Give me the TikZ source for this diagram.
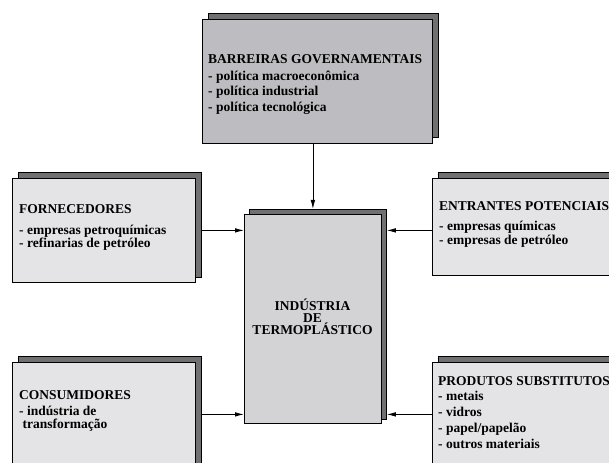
\documentclass[tikz,border=0pt]{standalone}
\usepackage{fontspec}
\setmainfont{Liberation Serif}
\usetikzlibrary{arrows.meta}
\definecolor{topfill}{HTML}{BDBDC1}
\definecolor{cenfill}{HTML}{D3D3D5}
\definecolor{sidefill}{HTML}{E4E4E6}
\definecolor{shadowgray}{HTML}{707072}
\tikzset{
  anybox/.style={rectangle, draw=black, line width=0.8bp, inner sep=0pt, anchor=north west},
  shadowbox/.style={anybox, fill=shadowgray},
  frontbox/.style={anybox},
  txt/.style={inner sep=0pt, anchor=base west, font=\bfseries},
  conn/.style={draw=black, line width=0.8bp, -{Latex[length=9bp,width=4.5bp]}},
}
\begin{document}
\begin{tikzpicture}[x=1bp,y=-1bp]
\useasboundingbox (0,0) rectangle (609,463);
\clip (0,0) rectangle (609,463);
\fill[white] (0,0) rectangle (609,463);
% shadows
\node[shadowbox, minimum width=230bp, minimum height=124bp] (topS) at (208,13) {};
\node[shadowbox, minimum width=137bp, minimum height=210bp] (cenS) at (249,209) {};
\node[shadowbox, minimum width=183bp, minimum height=105bp] (fornS) at (18,172) {};
\node[shadowbox, minimum width=190bp, minimum height=98bp] (entrS) at (438,172) {};
\node[shadowbox, minimum width=183bp, minimum height=115bp] (consS) at (18,356) {};
\node[shadowbox, minimum width=190bp, minimum height=115bp] (prodS) at (438,356) {};
% fronts
\node[frontbox, fill=topfill, minimum width=230bp, minimum height=124bp] (top) at (202,19) {};
\node[frontbox, fill=cenfill, minimum width=137bp, minimum height=209bp] (cen) at (244,214) {};
\node[frontbox, fill=sidefill, minimum width=183bp, minimum height=104bp] (forn) at (12,178) {};
\node[frontbox, fill=sidefill, minimum width=190bp, minimum height=97bp] (entr) at (432,178) {};
\node[frontbox, fill=sidefill, minimum width=183bp, minimum height=104bp] (cons) at (12,362) {};
\node[frontbox, fill=sidefill, minimum width=190bp, minimum height=115bp] (prod) at (432,362) {};
% texts
\node[txt] (topT) at (208,64) {\parbox[t]{260bp}{\fontsize{13.5bp}{15.5bp}\selectfont
  BARREIRAS GOVERNAMENTAIS\\[1bp]
  - política macroeconômica\\
  - política industrial\\
  - política tecnológica}};
\node[txt] (fornT) at (19,214) {\parbox[t]{200bp}{\fontsize{13.5bp}{13bp}\selectfont
  FORNECEDORES\\[7.5bp]
  - empresas petroquímicas\\
  - refinarias de petróleo}};
\node[txt] (entrT) at (439,211) {\parbox[t]{260bp}{\fontsize{13.5bp}{14bp}\selectfont
  ENTRANTES POTENCIAIS\\[6bp]
  - empresas químicas\\
  - empresas de petróleo}};
\node[txt] (consT) at (19,399) {\parbox[t]{200bp}{\fontsize{13.5bp}{13bp}\selectfont
  CONSUMIDORES\\[3bp]
  - indústria de\\
  \hspace*{3.5bp}transformação}};
\node[txt] (prodT) at (438,385) {\parbox[t]{260bp}{\fontsize{13.5bp}{16bp}\selectfont
  PRODUTOS SUBSTITUTOS\\[-1bp]
  - metais\\
  - vidros\\
  - papel/papelão\\
  - outros materiais}};
\node[txt, anchor=base] (cenT) at (312.5,310.5) {\parbox[t]{140bp}{\centering\fontsize{13.5bp}{12bp}\selectfont
  INDÚSTRIA\\
  DE\\
  TERMOPLÁSTICO}};
% connectors
\draw[conn] (cen.north |- top.south) -- (cen.north |- cenS.north);
\draw[conn] (forn.east -| fornS.east) -- (forn.east -| cen.west);
\draw[conn] (cons.east -| consS.east) -- (cons.east -| cen.west);
\draw[conn] (forn.east -| entr.west) -- (forn.east -| cenS.east);
\draw[conn] (cons.east -| prod.west) -- (cons.east -| cenS.east);
\end{tikzpicture}
\end{document}
